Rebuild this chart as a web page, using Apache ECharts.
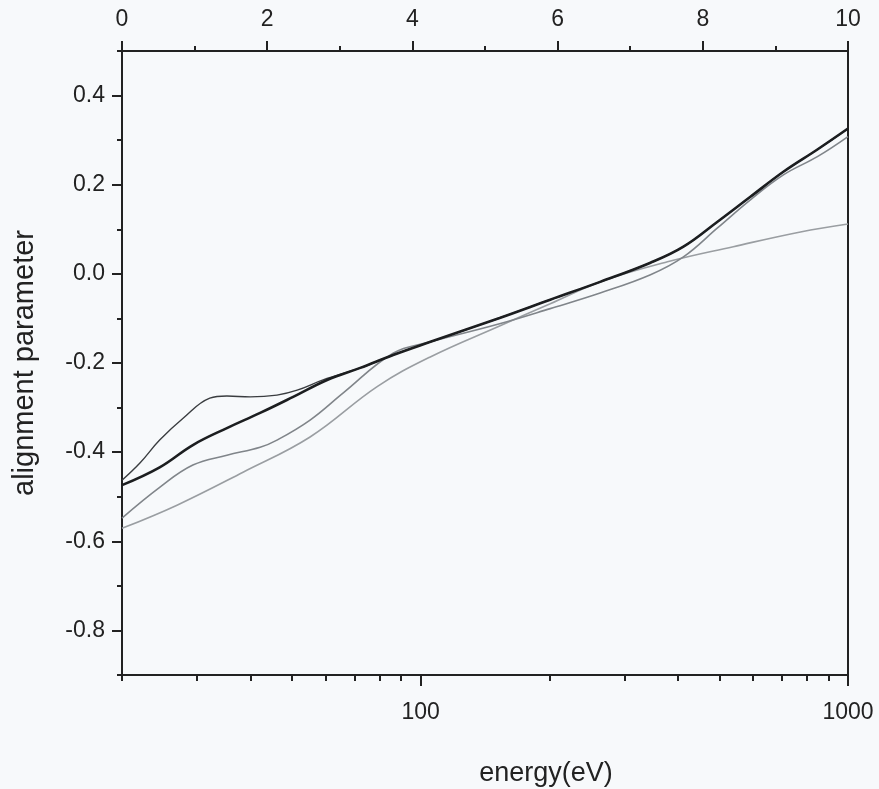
<!DOCTYPE html>
<html>
<head>
<meta charset="utf-8">
<script src="https://cdn.jsdelivr.net/npm/echarts@6/dist/echarts.min.js"></script>
<style>
html,body{margin:0;padding:0;background:#f7f9fb;}
#c{width:879px;height:789px;}
</style>
</head>
<body>
<div id="c"></div>
<script>
// ---- axis ticks / labels ----
const energyLabelValues = [100, 1000];
const energyMinorTicks = [20, 30, 40, 50, 60, 70, 80, 90, 200, 300, 400, 500, 600, 700, 800, 900];
const yLabelValues = [-0.8, -0.6, -0.4, -0.2, 0.0, 0.2, 0.4];
const yMinorTicks = [-0.9, -0.7, -0.5, -0.3, -0.1, 0.1, 0.3, 0.5];

// ---- series (energy in eV, alignment parameter) ----
const blackEnergy = [20, 24.5, 29.3, 35.2, 42.1, 50.3, 60.4, 72.2, 86.2, 105, 153, 201, 263, 345, 412, 495, 591, 706, 848, 1000];
const blackValue  = [-0.474, -0.434, -0.384, -0.346, -0.312, -0.276, -0.238, -0.211, -0.182, -0.153, -0.099, -0.058, -0.018, 0.025, 0.061, 0.117, 0.173, 0.229, 0.279, 0.326];

const thinEnergy = [20, 22.0, 24.5, 27.8, 32.1, 35.2, 39.9, 46.1, 51.4, 59.1, 72.2, 86.2, 105, 153, 201, 263, 345, 412, 495, 591, 706, 848, 1000];
const thinValue  = [-0.463, -0.425, -0.373, -0.324, -0.279, -0.274, -0.276, -0.272, -0.261, -0.238, -0.211, -0.182, -0.153, -0.099, -0.058, -0.018, 0.025, 0.061, 0.117, 0.173, 0.229, 0.279, 0.326];

const midEnergy = [20, 24.5, 29.3, 35.2, 42.1, 46.1, 55.1, 65.9, 86.2, 105, 153, 201, 263, 345, 412, 495, 591, 706, 848, 1000];
const midValue  = [-0.548, -0.479, -0.429, -0.407, -0.389, -0.373, -0.328, -0.267, -0.178, -0.153, -0.112, -0.078, -0.043, -0.002, 0.038, 0.103, 0.166, 0.222, 0.263, 0.308];

const lightEnergy = [20, 26.9, 38.4, 55.1, 79.1, 105, 153, 201, 263, 378, 539, 774, 1000];
const lightValue  = [-0.571, -0.519, -0.445, -0.366, -0.253, -0.187, -0.117, -0.067, -0.018, 0.027, 0.061, 0.094, 0.112];

const pairs = (xs, ys) => xs.map((x, i) => [x, ys[i]]);

const FONT = 'Liberation Sans';
const INK = '#222';
const noZeroLine = (show) => ({show: show, onZero: false, lineStyle: {color: INK, width: 2}});

const chart = echarts.init(document.getElementById('c'), null, {renderer: 'canvas'});
chart.setOption({
  backgroundColor: '#f7f9fb',
  animation: false,
  grid: {left: 122, right: 31, top: 51, bottom: 114, outerBoundsMode: 'none', containLabel: false,
         show: true, borderColor: INK, borderWidth: 2, backgroundColor: 'transparent'},
  xAxis: [
    {
      type: 'log', logBase: 10, min: 20, max: 1000, position: 'bottom', offset: 0,
      name: 'energy(eV)', nameLocation: 'middle', nameGap: 85,
      nameTextStyle: {fontFamily: FONT, fontSize: 27, color: INK, padding: [0, 0, 0, 122]},
      axisLine: noZeroLine(true),
      axisTick: {show: true, inside: false, length: 11, lineStyle: {color: INK, width: 2}, customValues: energyLabelValues},
      axisLabel: {show: true, margin: 26, fontFamily: FONT, fontSize: 23, color: INK, customValues: energyLabelValues, formatter: v => String(Math.round(v))},
      splitLine: {show: false}, minorTick: {show: false}, minorSplitLine: {show: false}
    },
    {
      type: 'log', logBase: 10, min: 20, max: 1000, position: 'bottom', offset: 0,
      axisLine: noZeroLine(false),
      axisTick: {show: true, inside: false, length: 6, lineStyle: {color: INK, width: 2}, customValues: energyMinorTicks},
      axisLabel: {show: false},
      splitLine: {show: false}
    },
    {
      type: 'value', min: 0, max: 10, interval: 2, position: 'top', offset: 0,
      axisLine: noZeroLine(true),
      axisTick: {show: true, inside: false, length: 10, lineStyle: {color: INK, width: 2}},
      minorTick: {show: true, splitNumber: 2, length: 5, lineStyle: {color: INK, width: 2}},
      axisLabel: {show: true, margin: 20, fontFamily: FONT, fontSize: 23, color: INK},
      splitLine: {show: false}
    }
  ],
  yAxis: [
    {
      type: 'value', min: -0.9, max: 0.5, position: 'left', offset: 0,
      name: 'alignment parameter', nameLocation: 'middle', nameGap: 83, nameRotate: 90,
      nameTextStyle: {fontFamily: FONT, fontSize: 29, color: INK},
      axisLine: noZeroLine(true),
      axisTick: {show: true, inside: false, length: 10, lineStyle: {color: INK, width: 2}, customValues: yLabelValues},
      axisLabel: {show: true, margin: 17, fontFamily: FONT, fontSize: 23, color: INK, customValues: yLabelValues, formatter: v => v.toFixed(1)},
      splitLine: {show: false}
    },
    {
      type: 'value', min: -0.9, max: 0.5, position: 'left', offset: 0,
      axisLine: noZeroLine(false),
      axisTick: {show: true, inside: false, length: 5, lineStyle: {color: INK, width: 2}, customValues: yMinorTicks},
      axisLabel: {show: false},
      splitLine: {show: false}
    }
  ],
  series: [
    {type: 'line', name: 'light', xAxisIndex: 0, yAxisIndex: 0, data: pairs(lightEnergy, lightValue), smooth: 0.4, showSymbol: false, lineStyle: {color: '#9a9ea2', width: 1.6}},
    {type: 'line', name: 'mid', xAxisIndex: 0, yAxisIndex: 0, data: pairs(midEnergy, midValue), smooth: 0.4, showSymbol: false, lineStyle: {color: '#80858a', width: 1.6}},
    {type: 'line', name: 'thin', xAxisIndex: 0, yAxisIndex: 0, data: pairs(thinEnergy, thinValue), smooth: 0.4, showSymbol: false, lineStyle: {color: '#3a3d40', width: 1.4}},
    {type: 'line', name: 'black', xAxisIndex: 0, yAxisIndex: 0, data: pairs(blackEnergy, blackValue), smooth: 0.4, showSymbol: false, lineStyle: {color: '#1c1e20', width: 2.6}}
  ]
});
</script>
</body>
</html>
